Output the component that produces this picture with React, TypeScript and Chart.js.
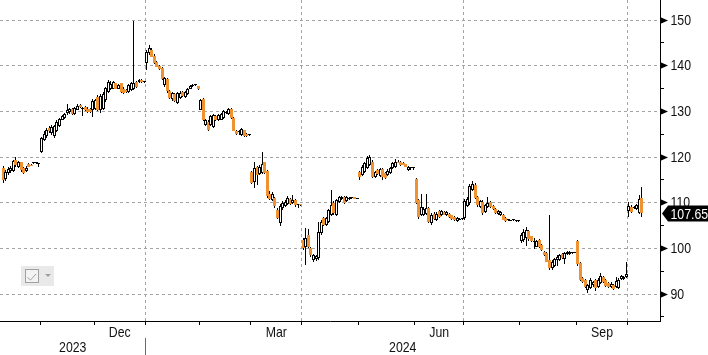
import React, { useEffect, useRef } from 'react';
import { Chart, registerables } from 'chart.js';

Chart.register(...registerables);

// ---------- calendar ----------
const FIRST_SESSION = '2023-10-11';
const ANCHOR_SESSION = '2023-11-01';
const HOLIDAYS = [
  '2023-11-23', '2023-12-25', '2024-01-01', '2024-01-15', '2024-02-19',
  '2024-03-29', '2024-05-27', '2024-06-19', '2024-07-04', '2024-09-02',
];
const MONTH_NAMES = ['Jan', 'Feb', 'Mar', 'Apr', 'May', 'Jun', 'Jul', 'Aug', 'Sep', 'Oct', 'Nov', 'Dec'];
const LABEL_MONTHS = [11, 2, 5, 8];
const GRID_MONTHS = [0, 3, 6, 9];

// ---------- OHLC (Oct 2023 .. Oct 2024) ----------
const opens = [
  117.5, 115.2, 116.5, 117.0, 117.0, 119.3, 117.8, 118.8, 117.5, 116.9, 118.4, 118.3, 118.7, 118.6, 118.5,
  121.0, 123.8, 124.5, 126.4, 125.2, 124.5, 125.8, 126.8, 128.2, 128.6, 129.6, 129.8, 130.5, 129.4, 130.4, 131.4, 130.6, 131.0, 130.6, 130.5, 130.2,
  130.5, 133.2, 130.4, 130.5, 132.5, 134.3, 134.8, 135.0, 136.1, 135.0, 136.1, 135.0, 134.6, 134.2, 134.7, 134.9, 136.5, 136.4, 136.8, 136.35,
  140.6, 142.8, 143.5, 142.2, 140.9, 140.0, 139.4, 135.7, 137.0, 134.4, 132.7, 133.8, 131.9, 133.0, 134.3, 133.2, 133.7, 135.0, 135.6, 135.7, 135.5,
  130.4, 132.7, 127.0, 127.7, 127.0, 126.6, 129.0, 128.0, 128.2, 128.6, 129.6, 129.4, 130.5, 128.5, 125.8, 125.5, 124.9, 125.9, 125.0, 124.8,
  116.8, 114.5, 117.8, 116.2, 116.6, 118.8, 117.0, 112.0, 110.6, 111.0, 108.5, 105.6, 108.9, 109.3, 109.8, 110.8, 109.9, 110.6, 109.5, 109.6,
  101.8, 100.4, 102.9, 100.0, 97.4, 97.6, 97.8, 103.3, 106.6, 105.1, 105.8, 107.3, 110.0, 107.3, 110.2, 110.8, 111.3, 110.3, 110.8, 111.0, 111.2, 110.9,
  116.8, 116.1, 116.8, 117.5, 118.3, 119.0, 115.7, 117.2, 115.9, 117.4, 116.6, 116.1, 116.5, 117.5, 117.9, 119.0, 119.0, 118.7, 118.4, 117.1, 117.5, 117.5,
  115.2, 110.6, 107.3, 107.3, 107.6, 108.8, 105.5, 107.6, 106.2, 108.2, 107.3, 108.0, 107.3, 107.6, 107.2, 106.8, 106.0, 106.3, 106.4,
  106.6, 109.3, 109.9, 112.8, 113.9, 111.3, 109.0, 110.2, 108.0, 109.0, 110.1, 109.2, 108.6, 107.5, 107.2, 107.4, 106.6, 106.15, 106.05, 106.15, 106.0, 105.95,
  101.5, 101.8, 102.2, 103.8, 102.6, 101.3, 100.4, 101.8, 100.8, 99.3, 98.9, 97.4, 95.6, 96.2, 97.4, 97.4, 98.7, 97.7, 98.8, 98.8, 98.95, 99.05,
  101.5, 96.7, 93.4, 93.1, 90.9, 91.3, 91.9, 93.0, 91.6, 92.4, 93.7, 93.0, 92.5, 91.6, 91.9, 91.5, 91.4, 93.3, 93.2, 93.8,
  108.2, 109.1, 108.9, 108.6, 107.7, 111.0,
];
const highs = [
  118.0, 117.2, 117.8, 118.0, 119.4, 119.9, 119.2, 119.0, 117.8, 118.0, 118.6, 118.5, 118.9, 118.8, 118.7,
  124.4, 125.6, 126.3, 126.8, 127.0, 127.0, 128.0, 128.6, 129.2, 129.7, 131.5, 130.8, 130.7, 131.0, 131.5, 131.6, 130.9, 131.2, 130.9, 130.7, 132.6,
  132.8, 133.5, 133.8, 134.2, 135.4, 136.9, 136.6, 136.7, 136.3, 136.0, 136.3, 135.3, 134.8, 136.0, 136.4, 149.8, 136.7, 137.1, 137.0, 136.5,
  143.4, 144.6, 143.8, 142.5, 141.1, 140.2, 139.6, 137.5, 137.2, 134.7, 134.3, 134.0, 134.3, 134.5, 134.5, 134.5, 135.2, 135.7, 136.0, 135.9, 135.6,
  132.8, 132.9, 128.3, 128.0, 129.3, 129.4, 129.3, 129.4, 129.6, 130.2, 130.1, 130.7, 130.7, 128.7, 126.0, 125.9, 126.4, 126.0, 125.2, 124.9,
  117.0, 118.8, 118.0, 118.2, 121.2, 119.0, 117.2, 112.5, 112.4, 111.2, 108.8, 109.8, 110.3, 110.5, 111.5, 111.0, 111.6, 110.8, 109.8, 109.7,
  102.2, 104.5, 104.3, 100.3, 98.8, 98.6, 105.8, 106.2, 106.9, 106.9, 108.7, 112.8, 110.3, 110.9, 111.5, 111.4, 111.5, 111.4, 111.2, 111.2, 111.3, 111.0,
  117.0, 118.2, 118.9, 120.3, 120.4, 119.3, 117.0, 117.4, 117.6, 117.6, 116.8, 117.3, 117.9, 118.9, 119.6, 119.3, 119.2, 118.8, 118.5, 118.0, 117.9, 117.8,
  115.4, 110.8, 112.0, 109.0, 112.0, 109.1, 107.8, 107.9, 108.0, 108.4, 108.5, 108.2, 108.2, 107.8, 107.4, 107.0, 106.8, 106.7, 106.5,
  110.8, 111.2, 114.0, 114.7, 114.2, 111.5, 110.6, 110.5, 109.7, 111.2, 110.4, 109.5, 108.9, 108.4, 108.1, 107.6, 106.8, 106.4, 106.3, 106.4, 106.3, 106.2,
  103.3, 104.3, 104.6, 104.0, 102.8, 102.3, 101.8, 102.0, 101.0, 99.5, 99.1, 107.3, 97.4, 97.9, 98.5, 98.8, 98.9, 99.1, 99.4, 99.4, 99.2, 99.3,
  101.8, 96.9, 93.8, 93.3, 92.3, 93.4, 92.9, 93.2, 93.4, 94.5, 93.9, 93.2, 92.7, 92.6, 92.1, 93.7, 93.4, 94.1, 94.0, 97.1,
  110.2, 109.5, 109.3, 109.8, 111.7, 113.5,
];
const lows = [
  114.2, 114.8, 116.0, 116.5, 116.8, 117.8, 117.5, 116.8, 116.3, 116.8, 117.8, 118.0, 118.5, 118.4, 117.9,
  120.9, 123.5, 124.2, 125.3, 124.8, 124.2, 125.5, 126.5, 128.0, 128.3, 129.2, 129.5, 129.2, 129.2, 130.2, 130.7, 129.0, 130.1, 129.7, 129.6, 128.7,
  130.2, 130.1, 129.7, 130.2, 132.1, 134.0, 134.6, 134.8, 134.8, 134.8, 134.1, 133.9, 134.1, 134.0, 134.5, 134.7, 135.2, 136.3, 136.3, 136.2,
  139.0, 142.4, 141.8, 140.4, 139.6, 139.0, 136.8, 135.3, 134.0, 132.6, 132.3, 132.0, 131.7, 132.6, 133.1, 133.0, 133.5, 134.8, 135.4, 135.5, 134.7,
  130.2, 127.8, 126.8, 125.8, 126.8, 126.3, 127.8, 127.8, 128.0, 128.4, 129.4, 129.2, 128.3, 125.6, 124.8, 124.9, 124.7, 124.3, 124.4, 124.7,
  114.0, 113.3, 113.8, 116.0, 116.3, 116.2, 111.0, 110.5, 110.3, 108.8, 106.4, 104.9, 108.5, 109.0, 109.6, 109.5, 109.7, 109.0, 108.8, 109.3,
  99.6, 96.4, 100.1, 98.2, 96.9, 97.2, 97.5, 103.0, 104.8, 104.9, 105.5, 107.0, 107.4, 107.1, 110.0, 110.6, 109.7, 110.1, 110.6, 110.8, 110.7, 110.85,
  115.0, 115.8, 116.5, 117.3, 118.0, 115.4, 115.5, 116.0, 115.7, 114.9, 115.1, 115.9, 116.3, 117.3, 117.7, 118.6, 118.1, 118.2, 117.8, 117.0, 117.2, 117.2,
  109.8, 106.5, 107.0, 107.0, 107.4, 105.5, 105.2, 106.2, 106.0, 106.7, 107.1, 107.2, 107.1, 106.7, 106.2, 106.0, 105.8, 106.1, 106.3,
  106.3, 109.0, 109.6, 112.5, 110.8, 109.1, 108.8, 107.4, 107.8, 108.8, 108.9, 108.4, 107.5, 107.3, 107.0, 106.1, 105.8, 106.0, 105.9, 106.0, 105.8, 105.8,
  101.2, 101.3, 100.5, 101.6, 101.4, 99.8, 100.2, 100.0, 99.4, 98.3, 96.9, 95.3, 95.3, 95.9, 96.2, 97.2, 97.6, 96.5, 98.6, 98.6, 98.8, 98.9,
  96.2, 92.8, 92.4, 91.3, 90.3, 91.0, 91.6, 90.7, 91.4, 92.2, 92.4, 91.6, 91.4, 91.4, 90.9, 91.3, 91.2, 93.1, 93.0, 93.6,
  106.9, 107.8, 108.6, 108.4, 107.5, 106.8,
];
const closes = [
  115.0, 116.8, 117.3, 117.6, 119.2, 118.2, 118.8, 117.2, 116.6, 117.7, 117.9, 118.1, 118.75, 118.65, 118.55,
  124.2, 125.0, 126.0, 125.6, 126.5, 126.7, 127.6, 128.3, 129.0, 129.4, 130.3, 130.5, 129.4, 130.7, 131.2, 130.9, 130.7, 130.3, 129.9, 129.8, 132.3,
  132.5, 130.4, 133.4, 133.8, 135.1, 136.4, 136.0, 136.4, 135.0, 135.8, 134.3, 134.1, 134.3, 135.7, 136.1, 136.3, 135.4, 136.9, 136.4, 136.4,
  143.0, 143.9, 142.0, 140.6, 139.8, 139.2, 137.0, 137.2, 134.4, 133.0, 134.0, 132.2, 134.0, 134.1, 133.3, 134.3, 135.0, 135.5, 135.7, 135.75, 134.9,
  132.5, 128.0, 128.0, 126.0, 129.0, 129.1, 128.0, 129.2, 129.4, 130.0, 129.8, 130.5, 128.5, 125.8, 125.0, 125.6, 126.2, 124.5, 124.6, 124.85,
  114.3, 117.5, 116.0, 117.9, 118.5, 116.5, 111.4, 110.8, 112.0, 109.2, 106.7, 109.3, 110.0, 110.2, 111.0, 109.8, 110.6, 109.5, 109.6, 109.5,
  100.0, 102.3, 100.4, 98.5, 98.5, 98.3, 103.6, 105.8, 105.1, 106.6, 108.4, 109.5, 107.7, 110.6, 111.3, 111.2, 109.9, 111.2, 111.1, 111.05, 110.8, 110.95,
  115.7, 117.9, 118.6, 119.7, 120.1, 115.7, 116.8, 116.2, 117.3, 115.6, 115.3, 117.0, 117.6, 118.6, 119.0, 118.7, 118.3, 118.3, 117.9, 117.9, 117.55, 117.55,
  110.0, 106.8, 109.1, 108.6, 108.9, 105.8, 107.4, 106.5, 107.6, 106.9, 108.2, 107.4, 108.0, 106.9, 106.4, 106.2, 106.6, 106.5, 106.45,
  110.4, 110.9, 113.6, 114.0, 111.0, 109.4, 110.3, 107.7, 109.4, 110.0, 109.1, 108.6, 107.7, 108.2, 107.9, 106.3, 106.0, 106.2, 106.1, 106.2, 106.1, 106.0,
  102.9, 103.5, 104.0, 102.0, 101.6, 101.5, 101.5, 100.3, 99.6, 98.5, 97.1, 95.8, 97.1, 97.6, 98.2, 98.5, 97.8, 98.9, 99.2, 99.1, 99.0, 99.1,
  96.5, 93.1, 92.7, 91.6, 92.0, 93.1, 92.6, 91.3, 93.1, 94.0, 92.6, 91.8, 91.6, 92.3, 91.1, 92.9, 93.1, 93.9, 93.8, 94.3,
  109.3, 108.0, 109.0, 109.5, 110.8, 107.65,
];

// ---------- axes ----------
const Y_MIN = 84.09;
const Y_MAX = 154.38;
const Y_TICK_VALUES = [85, 90, 95, 100, 105, 110, 115, 120, 125, 130, 135, 140, 145, 150];
const Y_LABEL_STEP = 10;
const VIEW_START = -16.2; // in sessions relative to anchor
const VIEW_END = 241.1;

const FONT = "'Liberation Sans', Arial, sans-serif";
const NARROW = 0.82; // horizontal condensing of label text
const UP_FILL = '#ffffff';
const DOWN_FILL = '#ef9232';
const GRID = '#a4a4a4';

function isoOf(d: Date) {
  return d.toISOString().slice(0, 10);
}

function buildSessions(first: string, count: number): Date[] {
  const out: Date[] = [];
  const d = new Date(first + 'T00:00:00Z');
  while (out.length < count) {
    const dow = d.getUTCDay();
    if (dow !== 0 && dow !== 6 && !HOLIDAYS.includes(isoOf(d))) out.push(new Date(d.getTime()));
    d.setUTCDate(d.getUTCDate() + 1);
  }
  return out;
}

function narrowText(ctx: CanvasRenderingContext2D, text: string, x: number, y: number, size: number, align: CanvasTextAlign, baseline: CanvasTextBaseline, color: string) {
  ctx.save();
  ctx.translate(x, y);
  ctx.scale(NARROW, 1);
  ctx.font = `${size}px ${FONT}`;
  ctx.textAlign = align;
  ctx.textBaseline = baseline;
  ctx.fillStyle = color;
  ctx.fillText(text, 0, 0);
  ctx.restore();
}

export default function App() {
  const ref = useRef<HTMLCanvasElement>(null);

  useEffect(() => {
    document.body.style.margin = '0';
    const sessions = buildSessions(FIRST_SESSION, opens.length);
    const anchor = sessions.findIndex((s) => isoOf(s) === ANCHOR_SESSION);
    const idx = sessions.map((_, i) => i - anchor);

    const monthBounds: { pos: number; month: number; year: number }[] = [];
    const spans: { month: number; year: number; first: number; last: number }[] = [];
    for (let i = 0; i < sessions.length; i++) {
      const m = sessions[i].getUTCMonth();
      const y = sessions[i].getUTCFullYear();
      if (i > 0 && m !== sessions[i - 1].getUTCMonth()) monthBounds.push({ pos: idx[i] - 0.5, month: m, year: y });
      const last = spans[spans.length - 1];
      if (!last || last.month !== m || last.year !== y) spans.push({ month: m, year: y, first: idx[i], last: idx[i] });
      else last.last = idx[i];
    }
    const gridBounds = new Set(monthBounds.filter((b) => GRID_MONTHS.includes(b.month)).map((b) => b.pos));
    const monthLabels = spans
      .filter((s) => LABEL_MONTHS.includes(s.month))
      .map((s) => ({ text: MONTH_NAMES[s.month], center: (s.first + s.last) / 2 }));
    const yearBounds = monthBounds.filter((b) => b.month === 0);
    const years = Array.from(new Set(sessions.map((s) => s.getUTCFullYear())));
    const yearLabels = years.map((yr) => {
      const startB = yearBounds.find((b) => b.year === yr);
      const endB = yearBounds.find((b) => b.year === yr + 1);
      const a = startB ? startB.pos : VIEW_START;
      const b = endB ? endB.pos : VIEW_END;
      return { text: String(yr), center: (a + b) / 2 };
    });

    const up = opens.map((o, i) => closes[i] >= o);
    const wickData = idx.map((x, i) => ({ x, y: [lows[i], highs[i]] }));
    const bodyData = idx.map((x, i) => ({ x, y: [Math.min(opens[i], closes[i]), Math.max(opens[i], closes[i])] }));

    const snapPlugin = {
      id: 'snap',
      beforeDatasetsDraw(chart: any) {
        chart.data.datasets.forEach((_: any, di: number) => {
          const meta = chart.getDatasetMeta(di);
          meta.data.forEach((el: any) => {
            el.x = Math.round(el.x - 0.5) + 0.5;
            el.y = Math.round(el.y);
            el.base = Math.round(el.base);
          });
        });
      },
    };

    const decorPlugin = {
      id: 'decor',
      afterDraw(chart: any) {
        const { ctx, chartArea: ca } = chart;
        const xs = chart.scales.x;
        const ys = chart.scales.y;
        const W = chart.width;
        const H = chart.height;
        ctx.save();
        // y axis markers and labels
        ctx.fillStyle = '#000';
        for (const v of Y_TICK_VALUES) {
          const py = Math.floor(ys.getPixelForValue(v));
          if (v % Y_LABEL_STEP === 0) {
            ctx.fillStyle = '#000';
            ctx.beginPath();
            ctx.moveTo(ca.right, py - 3);
            ctx.lineTo(ca.right + 8, py + 0.5);
            ctx.lineTo(ca.right, py + 4);
            ctx.closePath();
            ctx.fill();
            narrowText(ctx, String(v), ca.right + 10.5, py + 1, 15, 'left', 'middle', '#111');
          } else {
            ctx.fillStyle = '#000';
            ctx.fillRect(ca.right, py, 4, 1);
          }
        }
        // month & year labels
        for (const m of monthLabels) narrowText(ctx, m.text, xs.getPixelForValue(m.center), ca.bottom + 15.5, 15, 'center', 'alphabetic', '#111');
        for (const y of yearLabels) narrowText(ctx, y.text, xs.getPixelForValue(y.center), ca.bottom + 31, 15, 'center', 'alphabetic', '#111');
        // year separators
        ctx.fillStyle = '#6a6a6a';
        for (const b of yearBounds) {
          const px = Math.floor(xs.getPixelForValue(b.pos));
          ctx.fillRect(px, ca.bottom + 17, 1, H - ca.bottom - 17);
        }
        // last price tag
        const last = closes[closes.length - 1];
        const py = ys.getPixelForValue(last);
        ctx.fillStyle = '#000';
        ctx.beginPath();
        ctx.moveTo(ca.right + 2, py);
        ctx.lineTo(ca.right + 8, py - 8);
        ctx.lineTo(W, py - 8);
        ctx.lineTo(W, py + 8);
        ctx.lineTo(ca.right + 8, py + 8);
        ctx.closePath();
        ctx.fill();
        narrowText(ctx, last.toFixed(2), ca.right + 10.5, py + 1, 15, 'left', 'middle', '#fff');
        // chart-type widget
        ctx.fillStyle = '#e9e9e9';
        ctx.fillRect(21, 266, 33, 20);
        ctx.fillStyle = '#f3f3f3';
        ctx.fillRect(25, 269, 14, 14);
        ctx.strokeStyle = '#a0a0a0';
        ctx.lineWidth = 1;
        ctx.strokeRect(25.5, 269.5, 13, 13);
        ctx.beginPath();
        ctx.moveTo(27.5, 277.5);
        ctx.lineTo(30.5, 280);
        ctx.lineTo(36, 274);
        ctx.stroke();
        ctx.fillStyle = '#a0a0a0';
        ctx.beginPath();
        ctx.moveTo(45, 274);
        ctx.lineTo(51, 274);
        ctx.lineTo(48, 277);
        ctx.closePath();
        ctx.fill();
        ctx.restore();
      },
    };

    const chart = new Chart(ref.current as HTMLCanvasElement, {
      type: 'bar',
      data: {
        datasets: [
          {
            label: 'body',
            data: bodyData as any,
            backgroundColor: up.map((u) => (u ? UP_FILL : DOWN_FILL)),
            borderColor: up.map((u) => (u ? '#000' : DOWN_FILL)),
            borderWidth: up.map((u) => (u ? 1 : 0)),
            borderSkipped: false,
            barThickness: 3,
            minBarLength: 1,
            inflateAmount: 0,
            grouped: false,
            order: 1,
          } as any,
          {
            label: 'wick',
            data: wickData as any,
            backgroundColor: '#000',
            borderWidth: 0,
            barThickness: 1,
            minBarLength: 1,
            inflateAmount: 0,
            grouped: false,
            order: 2,
          } as any,
        ],
      },
      options: {
        responsive: false,
        animation: false,
        devicePixelRatio: 1,
        events: [],
        layout: { padding: 0 },
        plugins: { legend: { display: false }, tooltip: { enabled: false } },
        scales: {
          x: {
            type: 'linear',
            min: VIEW_START,
            max: VIEW_END,
            offset: false,
            afterBuildTicks: (scale: any) => {
              scale.ticks = monthBounds.map((b) => ({ value: b.pos }));
            },
            afterFit: (scale: any) => {
              scale.height = 34;
              scale.paddingLeft = 0;
              scale.paddingRight = 0;
              scale.paddingTop = 0;
              scale.paddingBottom = 0;
            },
            grid: {
              offset: false,
              color: (c: any) => (c.tick && gridBounds.has(c.tick.value) ? GRID : 'rgba(0,0,0,0)'),
              lineWidth: 1,
              drawTicks: true,
              tickLength: 4,
              tickColor: '#000',
            },
            border: { display: true, color: '#000', width: 1, dash: [3, 3] },
            ticks: { display: false },
          } as any,
          y: {
            type: 'linear',
            position: 'right',
            min: Y_MIN,
            max: Y_MAX,
            beginAtZero: false,
            afterBuildTicks: (scale: any) => {
              scale.ticks = Y_TICK_VALUES.map((v) => ({ value: v }));
            },
            afterFit: (scale: any) => {
              scale.width = 48;
              scale.paddingLeft = 0;
              scale.paddingRight = 0;
              scale.paddingTop = 0;
              scale.paddingBottom = 0;
            },
            grid: {
              color: (c: any) => (c.tick && c.tick.value % Y_LABEL_STEP === 0 ? GRID : 'rgba(0,0,0,0)'),
              lineWidth: 1,
              drawTicks: false,
            },
            border: { display: true, color: '#000', width: 1, dash: [3, 3] },
            ticks: { display: false },
          } as any,
        },
      } as any,
      plugins: [snapPlugin, decorPlugin],
    });
    return () => chart.destroy();
  }, []);

  return (
    <div style={{ width: 708, height: 355, position: 'relative', background: '#fff' }}>
      <canvas ref={ref} width={708} height={355} style={{ display: 'block' }} />
    </div>
  );
}
